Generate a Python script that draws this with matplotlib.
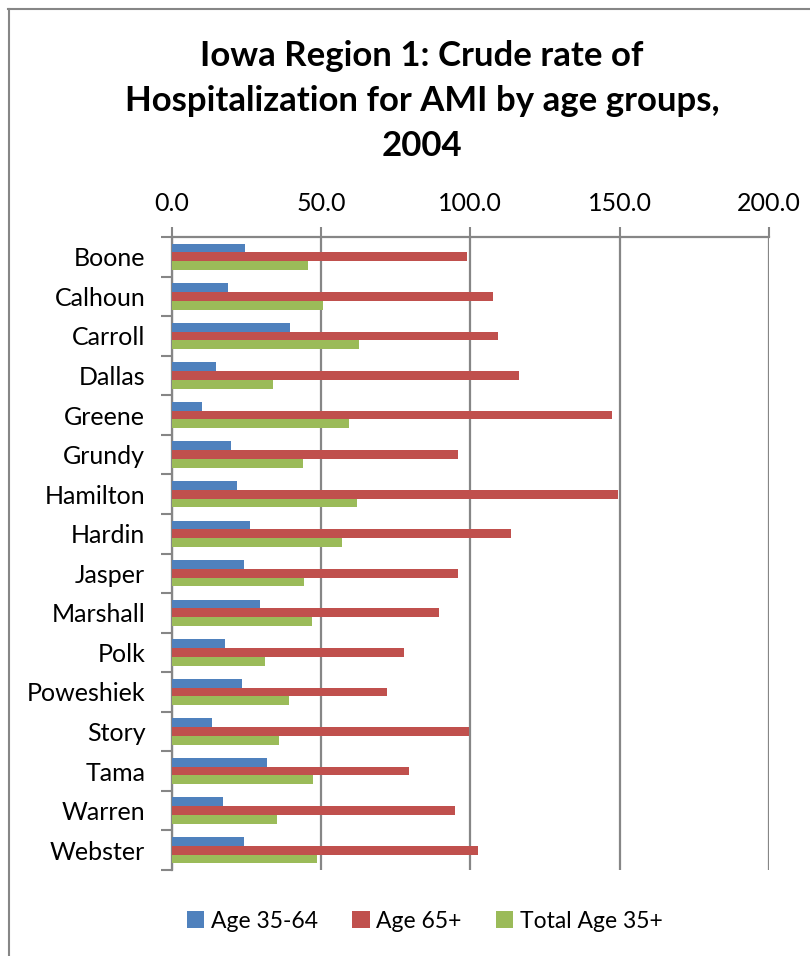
import matplotlib
matplotlib.use("Agg")
import matplotlib.pyplot as plt
import numpy as np
from matplotlib.lines import Line2D
from matplotlib.patches import Patch

counties = ["Boone", "Calhoun", "Carroll", "Dallas", "Greene", "Grundy", "Hamilton",
            "Hardin", "Jasper", "Marshall", "Polk", "Poweshiek", "Story", "Tama",
            "Warren", "Webster"]
age_35_64 = [24.7, 18.9, 39.6, 14.8, 10.1, 19.9, 22.0, 26.3, 24.1, 29.5, 17.9, 23.7,
             13.6, 31.9, 17.3, 24.2]
age_65_plus = [99.0, 107.6, 109.4, 116.2, 147.3, 95.9, 149.5, 113.6, 96.0, 89.6, 77.7,
               72.0, 99.6, 79.6, 94.7, 102.6]
total_35_plus = [45.7, 50.5, 62.7, 33.9, 59.3, 43.8, 62.0, 57.1, 44.2, 47.1, 31.3, 39.2,
                 36.0, 47.2, 35.2, 48.8]
series_names = ["Age 35-64", "Age 65+", "Total Age 35+"]
x_ticks = [0, 50, 100, 150, 200]
title = "Iowa Region 1: Crude rate of\nHospitalization for AMI by age groups,\n2004"

colors = ["#4F81BD", "#C0504D", "#9BBB59"]
grey = "#868686"
plt.rcParams['font.family'] = ['Lato', 'DejaVu Sans']

fig = plt.figure(figsize=(8.1, 9.56), dpi=100)
ax = fig.add_axes([171.7/810, 1-870/956, (769-171.7)/810, (870-237)/956])

n = len(counties)
y = np.arange(n)
w = 1/4.5
for i, vals in enumerate([age_35_64, age_65_plus, total_35_plus]):
    ax.barh(y + (i-1)*w, vals, height=w, color=colors[i], edgecolor='none', zorder=3)

ax.set_xlim(0, 200)
ax.set_ylim(n-0.5, -0.5)
ax.set_xticks(x_ticks)
ax.set_xticklabels([f"{t:.1f}" for t in x_ticks])
ax.xaxis.tick_top()
ax.tick_params(axis='x', which='major', direction='out', length=7, width=1.5,
               color=grey, labelsize=18, pad=9, labelcolor='black')
ax.grid(axis='x', color=grey, linewidth=1.6, zorder=1)
ax.set_yticks(y)
ax.set_yticklabels(counties)
ax.tick_params(axis='y', which='major', length=0, labelsize=18, pad=19)
ax.set_yticks(np.arange(n+1)-0.5, minor=True)
ax.tick_params(axis='y', which='minor', direction='out', length=8, width=1.5, color=grey)
for s in ['right', 'bottom']:
    ax.spines[s].set_visible(False)
for s in ['left', 'top']:
    ax.spines[s].set_color(grey)
    ax.spines[s].set_linewidth(1.6)

fig.text(0.521, 1-101/956, title, ha='center', va='center', fontsize=25,
         fontweight='bold', linespacing=1.5)

handles = [Patch(facecolor=c, edgecolor='none') for c in colors]
fig.legend(handles, series_names, loc='center', bbox_to_anchor=(425/810, 1-921/956),
           ncol=3, frameon=False, fontsize=16.5, handlelength=0.75, handleheight=0.75,
           handletextpad=0.3, columnspacing=1.5)

fig.add_artist(Line2D([8.5/810, 8.5/810], [0, 1-9/956], color=grey, lw=1.5,
                      transform=fig.transFigure))
fig.add_artist(Line2D([8/810, 1], [1-9/956, 1-9/956], color=grey, lw=1.5,
                      transform=fig.transFigure))

fig.savefig("out.png", dpi=100)
